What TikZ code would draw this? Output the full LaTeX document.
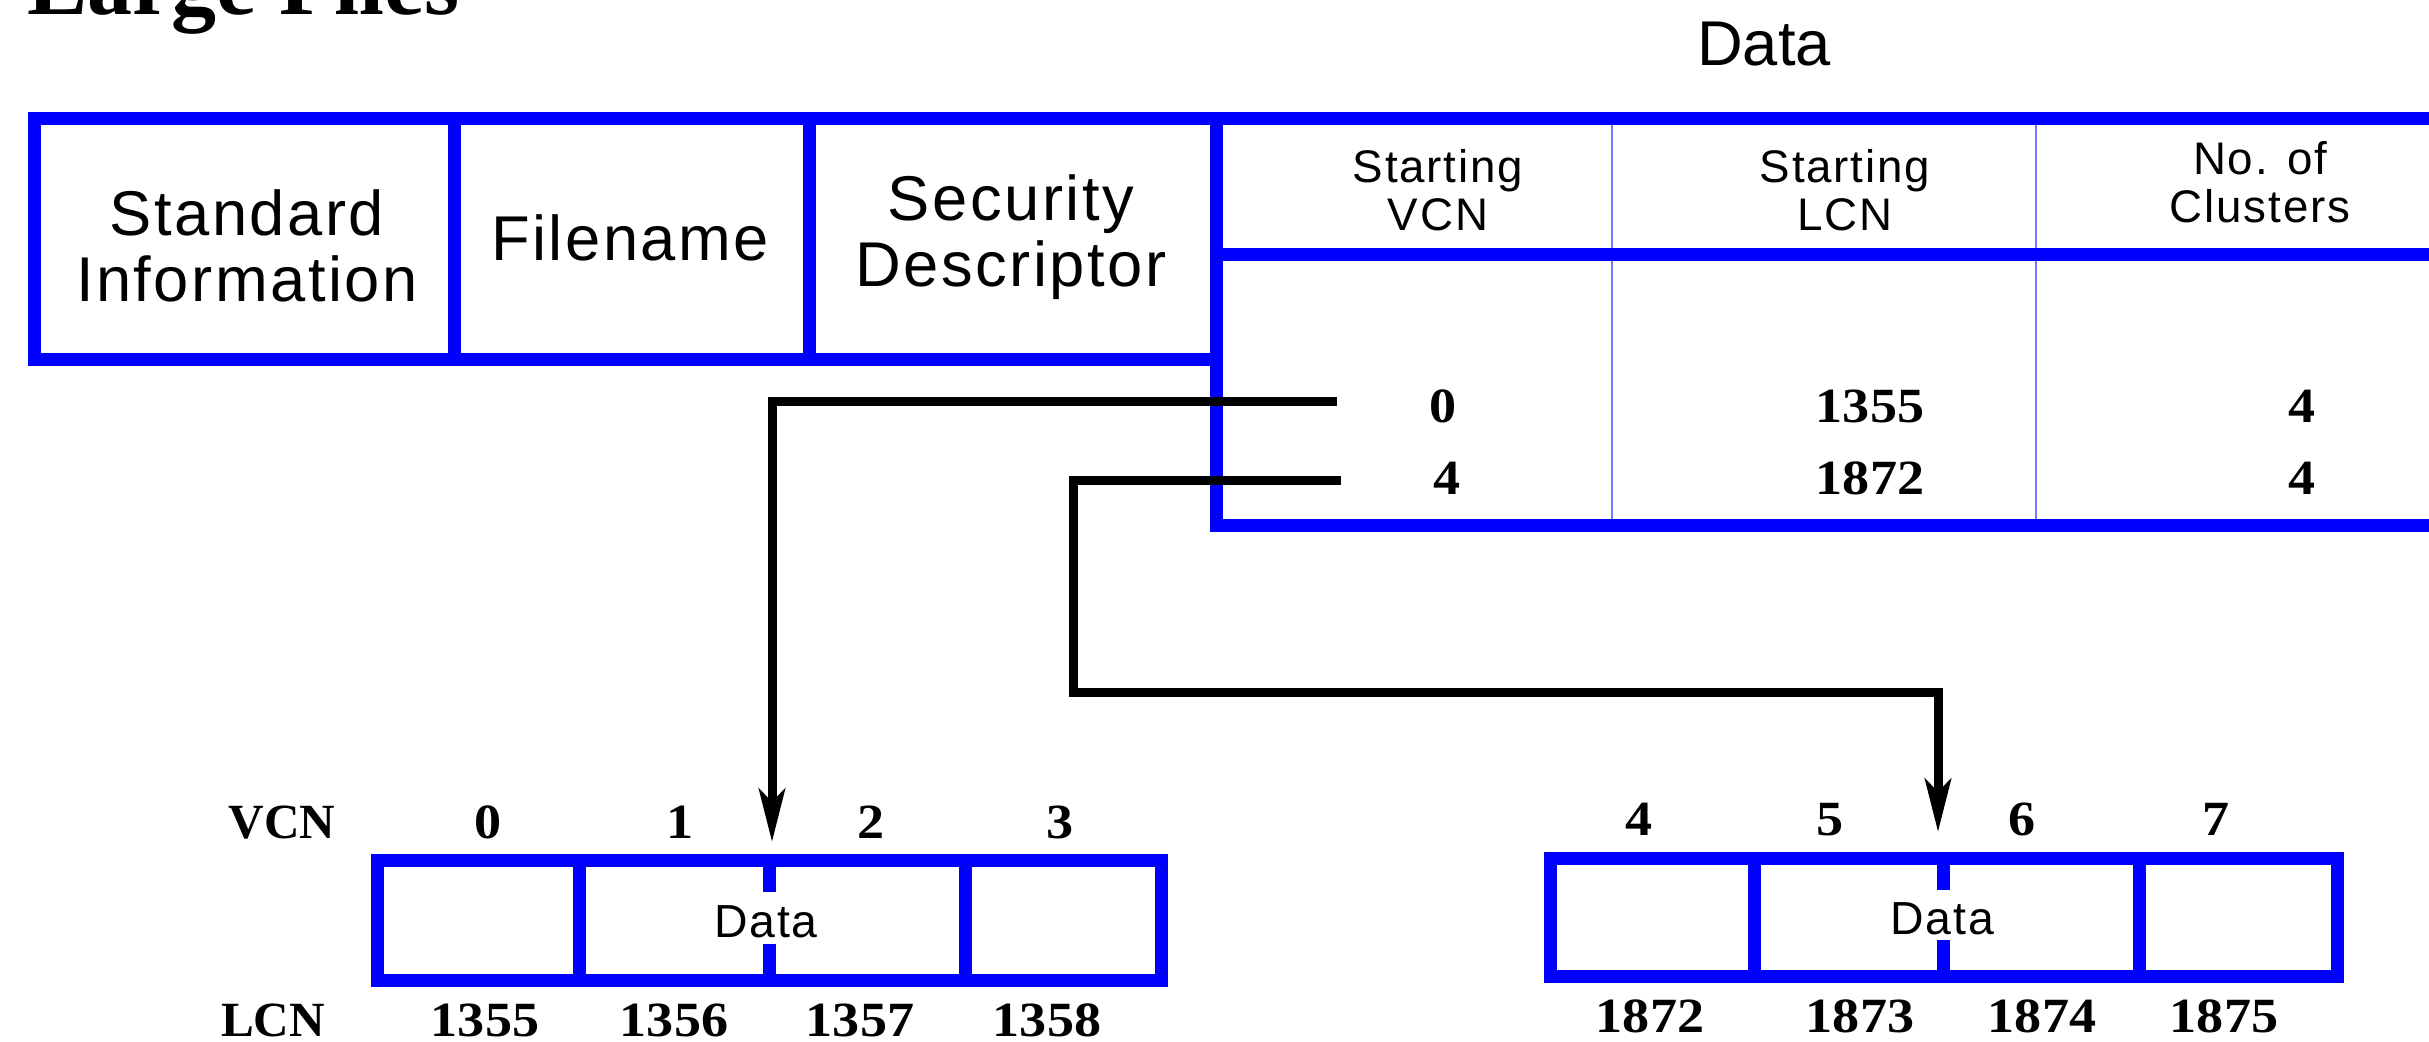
\documentclass[tikz,border=0pt]{standalone}
\usepackage{fontspec}
\usetikzlibrary{arrows.meta}
\newfontfamily\labf[LetterSpace=4]{Liberation Sans}
\newfontfamily\datf{Liberation Sans}
\newfontfamily\numf{Liberation Serif}
\newfontfamily\digf[FakeStretch=1.1]{Liberation Serif}
\definecolor{mblue}{RGB}{0,0,255}
\definecolor{tblue}{RGB}{120,120,255}
\begin{document}
\begin{tikzpicture}[x=0.1mm,y=-0.1mm,
  txt/.style={inner sep=0pt,outer sep=0pt,anchor=base},
  big/.style={txt,font=\labf\fontsize{18}{18.8}\selectfont,align=center},
  hdr/.style={txt,font=\labf\fontsize{13}{13.9}\selectfont,align=center},
  celltext/.style={txt,font=\labf\fontsize{13.2}{14}\selectfont},
  rowlab/.style={txt,font=\numf\bfseries\fontsize{14}{16}\selectfont},
  numb/.style={txt,font=\digf\bfseries\fontsize{14}{16}\selectfont},
  frame/.style={draw=mblue,line width=1.3mm},
  thin/.style={draw=tblue,line width=0.2mm},
  conn/.style={draw=black,line width=0.9mm,-{Stealth[length=5.3mm,width=2.6mm,inset=1.3mm]}},
]
\useasboundingbox (0,0) rectangle (2429,1042);
\clip (0,0) rectangle (2429,1042);

% title and header
\node[txt,anchor=base west,font=\numf\bfseries\fontsize{25.6}{28}\selectfont] (title) at (27,15) {Large Files};
\node[txt,font=\datf\fontsize{18}{18.8}\selectfont] (dhead) at (1764,66) {Data};

% upper record frame
\draw[thin] (1612,118.5) -- (1612,526);
\draw[thin] (2036,118.5) -- (2036,526);
\draw[frame] (2445,118.5) -- (34,118.5) -- (34,359.5) -- (1216,359.5);
\draw[frame] (1216,118.5) -- (1216,526) -- (2445,526);
\draw[frame] (1216,255) -- (2445,255);
\draw[frame] (454,118.5) -- (454,359.5);
\draw[frame] (809,118.5) -- (809,359.5);

% multi-line nodes: base anchor = baseline of the last line
\node[big] (std) at (247,302) {Standard\\Information};
\node[big] (fn) at (630,261) {Filename};
\node[big] (sec) at (1011,287) {Security\\Descriptor};
\node[hdr] (h1) at (1438,231) {Starting\\VCN};
\node[hdr] (h2) at (1845,231) {Starting\\LCN};
\node[hdr] (h3) at (2260,223) {No. of\\Clusters};

\node[numb] (v1) at (1443,423) {0};
\node[numb] (l1) at (1870,423) {1355};
\node[numb] (n1) at (2302,423) {4};
\node[numb] (v2) at (1447,495) {4};
\node[numb] (l2) at (1870,495) {1872};
\node[numb] (n2) at (2302,495) {4};

% lower left block
\draw[frame] (377.5,860.5) rectangle (1161.5,980.5);
\draw[frame] (579,860.5) -- (579,980.5);
\draw[frame] (965,860.5) -- (965,980.5);
\draw[frame] (769,860.5) -- (769,892);
\draw[frame] (769,944) -- (769,980.5);
\node[celltext] (dl) at (766,937) {Data};

\node[rowlab] (vcnl) at (282,838) {VCN};
\node[numb] (a0) at (488,838) {0};
\node[numb] (a1) at (680,838) {1};
\node[numb] (a2) at (871,838) {2};
\node[numb] (a3) at (1060,838) {3};
\node[rowlab] (lcnl) at (273,1036) {LCN};
\node[numb] (b0) at (485,1036) {1355};
\node[numb] (b1) at (674,1036) {1356};
\node[numb] (b2) at (860,1036) {1357};
\node[numb] (b3) at (1047,1036) {1358};

% lower right block
\draw[frame] (1550.5,858.5) rectangle (2337.5,976.5);
\draw[frame] (1754,858.5) -- (1754,976.5);
\draw[frame] (2139,858.5) -- (2139,976.5);
\draw[frame] (1943,858.5) -- (1943,890);
\draw[frame] (1943,940) -- (1943,976.5);
\node[celltext] (dr) at (1942,934) {Data};

\node[numb] (c4) at (1639,835) {4};
\node[numb] (c5) at (1830,835) {5};
\node[numb] (c6) at (2022,835) {6};
\node[numb] (c7) at (2216,835) {7};
\node[numb] (d4) at (1650,1032) {1872};
\node[numb] (d5) at (1860,1032) {1873};
\node[numb] (d6) at (2042,1032) {1874};
\node[numb] (d7) at (2224,1032) {1875};

% connectors
\coordinate (s1) at (1337,401.5);
\coordinate (e1) at (772,842);
\coordinate (s2) at (1341,480.5);
\coordinate (k2) at (1073,692);
\coordinate (e2) at (1938,832);
\draw[conn] (s1) -| (e1);
\draw[conn] (s2) -| (k2) -| (e2);
\end{tikzpicture}
\end{document}
